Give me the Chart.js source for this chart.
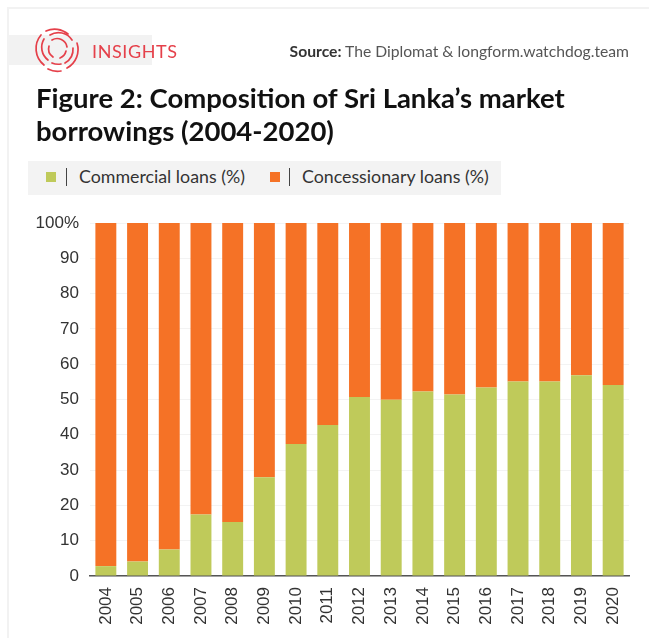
<!DOCTYPE html>
<html>
<head>
<meta charset="utf-8">
<script src="https://cdn.jsdelivr.net/npm/chart.js@4/dist/chart.umd.min.js"></script>
<style>
  html, body { margin: 0; padding: 0; background: #fff; }
  #page { position: relative; width: 649px; height: 638px; overflow: hidden; font-family: Lato, sans-serif; }
  #page canvas { position: absolute; left: 0; top: 0; }
  .abs { position: absolute; white-space: nowrap; }
  #frameTop { left: 7px; top: 7px; width: 642px; height: 2px; background: #f2f2f2; }
  #frameLeft { left: 7px; top: 7px; width: 2px; height: 631px; background: #f2f2f2; }
  #brandBand { left: 8px; top: 35px; width: 144px; height: 30px; background: #f2f2f2; }
  #brand { left: 92px; top: 39px; font-size: 18px; line-height: 24px; letter-spacing: 0.6px; color: #e5404a; }
  #source { right: 20px; top: 41px; font-size: 15.7px; line-height: 20px; color: #555; }
  #source b { font-weight: 700; color: #333; }
  #title { left: 36px; top: 81px; font-size: 27.5px; line-height: 33px; font-weight: 700; color: #111; }
  #legendBand { left: 28px; top: 161px; width: 473px; height: 34px; background: #f3f3f3; }
  .swatch { width: 10px; height: 10px; top: 172px; }
  .pipe { width: 1px; height: 18px; top: 168px; background: #444; }
  .legendText { top: 165px; font-size: 17.8px; line-height: 22px; color: #333; }
  svg { position: absolute; left: 30px; top: 22px; }
</style>
</head>
<body>
<div id="page">
  <canvas id="chart" width="649" height="638"></canvas>
  <div class="abs" id="frameTop"></div>
  <div class="abs" id="frameLeft"></div>
  <div class="abs" id="brandBand"></div>
  <svg width="54" height="54" viewBox="0 0 54 54" fill="none" stroke="#e5404a" stroke-width="1.7" stroke-linecap="round">
    <path d="M11 13 A21 21 0 0 0 14 43"/>
    <path d="M16 9 A21 21 0 0 1 38 12"/>
    <path d="M47 21 A21 21 0 0 1 37 46"/>
    <path d="M18 47 A21 21 0 0 0 31 49"/>
    <path d="M14 17 A16 16 0 0 0 18 38"/>
    <path d="M20 13 A16 16 0 0 1 42 18"/>
    <path d="M43 26 A16 16 0 0 1 35 41"/>
    <path d="M22 41 A16 16 0 0 0 31 42"/>
    <path d="M19 24 A10 10 0 0 0 23 35"/>
    <path d="M22 18 A10 10 0 0 1 37 25"/>
    <path d="M36 29 A10 10 0 0 1 30 36"/>
  </svg>
  <div class="abs" id="brand">INSIGHTS</div>
  <div class="abs" id="source"><b>Source:</b> The Diplomat &amp; longform.watchdog.team</div>
  <div class="abs" id="title">Figure 2: Composition of Sri Lanka’s market<br>borrowings (2004-2020)</div>
  <div class="abs" id="legendBand"></div>
  <div class="abs swatch" id="swatchA"></div>
  <div class="abs pipe" style="left:66px"></div>
  <div class="abs legendText" id="labelA" style="left:79px"></div>
  <div class="abs swatch" id="swatchB"></div>
  <div class="abs pipe" style="left:289px"></div>
  <div class="abs legendText" id="labelB" style="left:302px"></div>
</div>
<script>
// Years on the category axis
const years = ['2004','2005','2006','2007','2008','2009','2010','2011','2012','2013','2014','2015','2016','2017','2018','2019','2020'];
// Share of market borrowings, percent
const commercial = [2.8, 4.1, 7.5, 17.4, 15.3, 28.0, 37.4, 42.8, 50.7, 49.9, 52.3, 51.4, 53.4, 55.1, 55.1, 56.9, 54.1];
const concessionary = [97.2, 95.9, 92.5, 82.6, 84.7, 72.0, 62.6, 57.2, 49.3, 50.1, 47.7, 48.6, 46.6, 44.9, 44.9, 43.1, 45.9];
const commercialLabel = 'Commercial loans (%)';
const concessionaryLabel = 'Concessionary loans (%)';
const commercialColor = '#bfca5a';
const concessionaryColor = '#f57226';

// Legend row sits in the page header, above the plot
document.getElementById('labelA').textContent = commercialLabel;
document.getElementById('labelB').textContent = concessionaryLabel;
Object.assign(document.getElementById('swatchA').style, { left: '46px', background: commercialColor });
Object.assign(document.getElementById('swatchB').style, { left: '270px', background: concessionaryColor });

const tickFont = { family: '"Liberation Sans", Arial, sans-serif', size: 17 };

new Chart(document.getElementById('chart'), {
  type: 'bar',
  data: {
    labels: years,
    datasets: [
      { label: commercialLabel, data: commercial, backgroundColor: commercialColor, categoryPercentage: 0.66, barPercentage: 1 },
      { label: concessionaryLabel, data: concessionary, backgroundColor: concessionaryColor, categoryPercentage: 0.66, barPercentage: 1 }
    ]
  },
  options: {
    responsive: false,
    animation: false,
    layout: { padding: { top: 223, right: 20, left: 0, bottom: 0 } },
    plugins: { legend: { display: false }, tooltip: { enabled: false } },
    scales: {
      x: {
        stacked: true,
        afterFit: s => { s.height = 62; },
        grid: { display: false, drawTicks: false },
        border: { display: true, color: '#555', width: 1.5 },
        ticks: { color: '#333', font: tickFont, minRotation: 90, maxRotation: 90, padding: 11, autoSkip: false }
      },
      y: {
        stacked: true,
        min: 0,
        max: 100,
        afterFit: s => { s.width = 90; },
        grid: { color: '#f3f3f3', lineWidth: 1, drawTicks: false },
        border: { display: false },
        ticks: {
          stepSize: 10,
          color: '#333',
          font: tickFont,
          padding: 11,
          callback: v => (v === 100 ? '100%' : String(v))
        }
      }
    }
  }
});
</script>
</body>
</html>
